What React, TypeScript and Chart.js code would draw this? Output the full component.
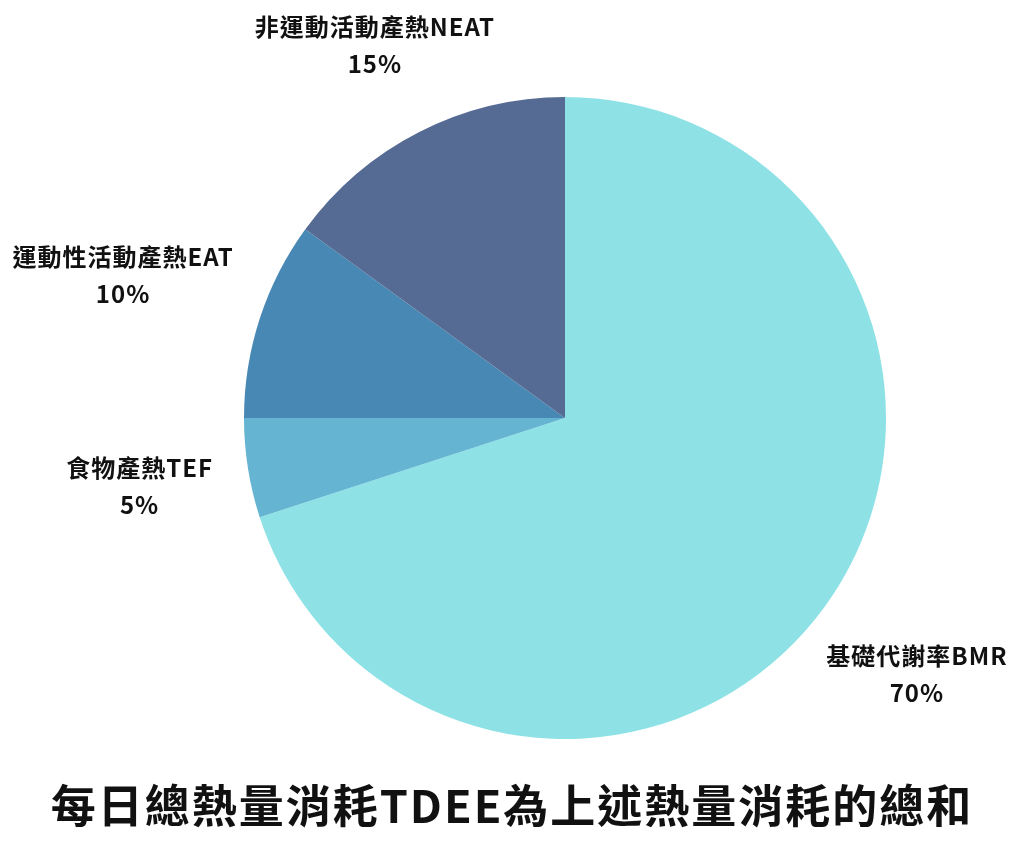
import { useEffect, useRef } from "react";
import { Chart, ChartConfiguration, registerables, Plugin } from "chart.js";

Chart.register(...registerables);

const categories = ["基礎代謝率BMR", "食物產熱TEF", "運動性活動產熱EAT", "非運動活動產熱NEAT"];
const shares = [70, 5, 10, 15];
const sliceColors = ["#8ee2e6", "#64b4d2", "#4888b4", "#566b94"];
const caption = "每日總熱量消耗TDEE為上述熱量消耗的總和";

const FONT = "'Noto Sans CJK TC', 'Noto Sans', sans-serif";

// draws the name + percent outside each slice, and the caption under the pie
const outsideLabels: Plugin<"pie"> = {
  id: "outsideLabels",
  afterDraw(chart) {
    const ctx = chart.ctx;
    const meta = chart.getDatasetMeta(0);
    ctx.save();
    ctx.fillStyle = "#111";
    ctx.textAlign = "center";
    ctx.textBaseline = "middle";
    ctx.font = `bold 24px ${FONT}`;
    (ctx as any).letterSpacing = "1px";
    meta.data.forEach((el: any, i: number) => {
      const { x, y, startAngle, endAngle, outerRadius } = el.getProps(
        ["x", "y", "startAngle", "endAngle", "outerRadius"],
        true
      );
      const mid = (startAngle + endAngle) / 2;
      const dx = Math.cos(mid);
      const dy = Math.sin(mid);
      const w = ctx.measureText(categories[i]).width;
      const halfH = 8;
      const dist = outerRadius + 36 + (w / 2) * Math.abs(dx) + halfH * Math.abs(dy);
      const cx = x + dx * dist;
      const cy = y + dy * dist;
      ctx.fillText(categories[i], cx, cy - 18);
      ctx.fillText(`${shares[i]}%`, cx, cy + 19);
    });
    ctx.font = `bold 45px ${FONT}`;
    (ctx as any).letterSpacing = "2px";
    ctx.fillText(caption, chart.width / 2, 806);
    ctx.restore();
  },
};

export default function App() {
  const canvasRef = useRef<HTMLCanvasElement>(null);
  const chartRef = useRef<Chart<"pie"> | null>(null);

  useEffect(() => {
    document.body.style.margin = "0";
    if (!canvasRef.current) return;
    const ctx = canvasRef.current.getContext("2d");
    if (!ctx) return;

    if (chartRef.current) {
      chartRef.current.destroy();
    }

    const config: ChartConfiguration<"pie"> = {
      type: "pie",
      data: {
        labels: categories,
        datasets: [{
          data: shares,
          backgroundColor: sliceColors,
          borderWidth: 0,
        }],
      },
      options: {
        responsive: false,
        animation: false,
        layout: {
          padding: { top: 97, bottom: 105, left: 244, right: 138 },
        },
        plugins: {
          legend: { display: false },
          tooltip: { enabled: false },
        },
      },
      plugins: [outsideLabels],
    };

    chartRef.current = new Chart(ctx, config);

    return () => {
      if (chartRef.current) {
        chartRef.current.destroy();
      }
    };
  }, []);

  return (
    <div style={{ width: 1024, height: 844, background: "#fff" }}>
      <canvas ref={canvasRef} width={1024} height={844}></canvas>
    </div>
  );
}
